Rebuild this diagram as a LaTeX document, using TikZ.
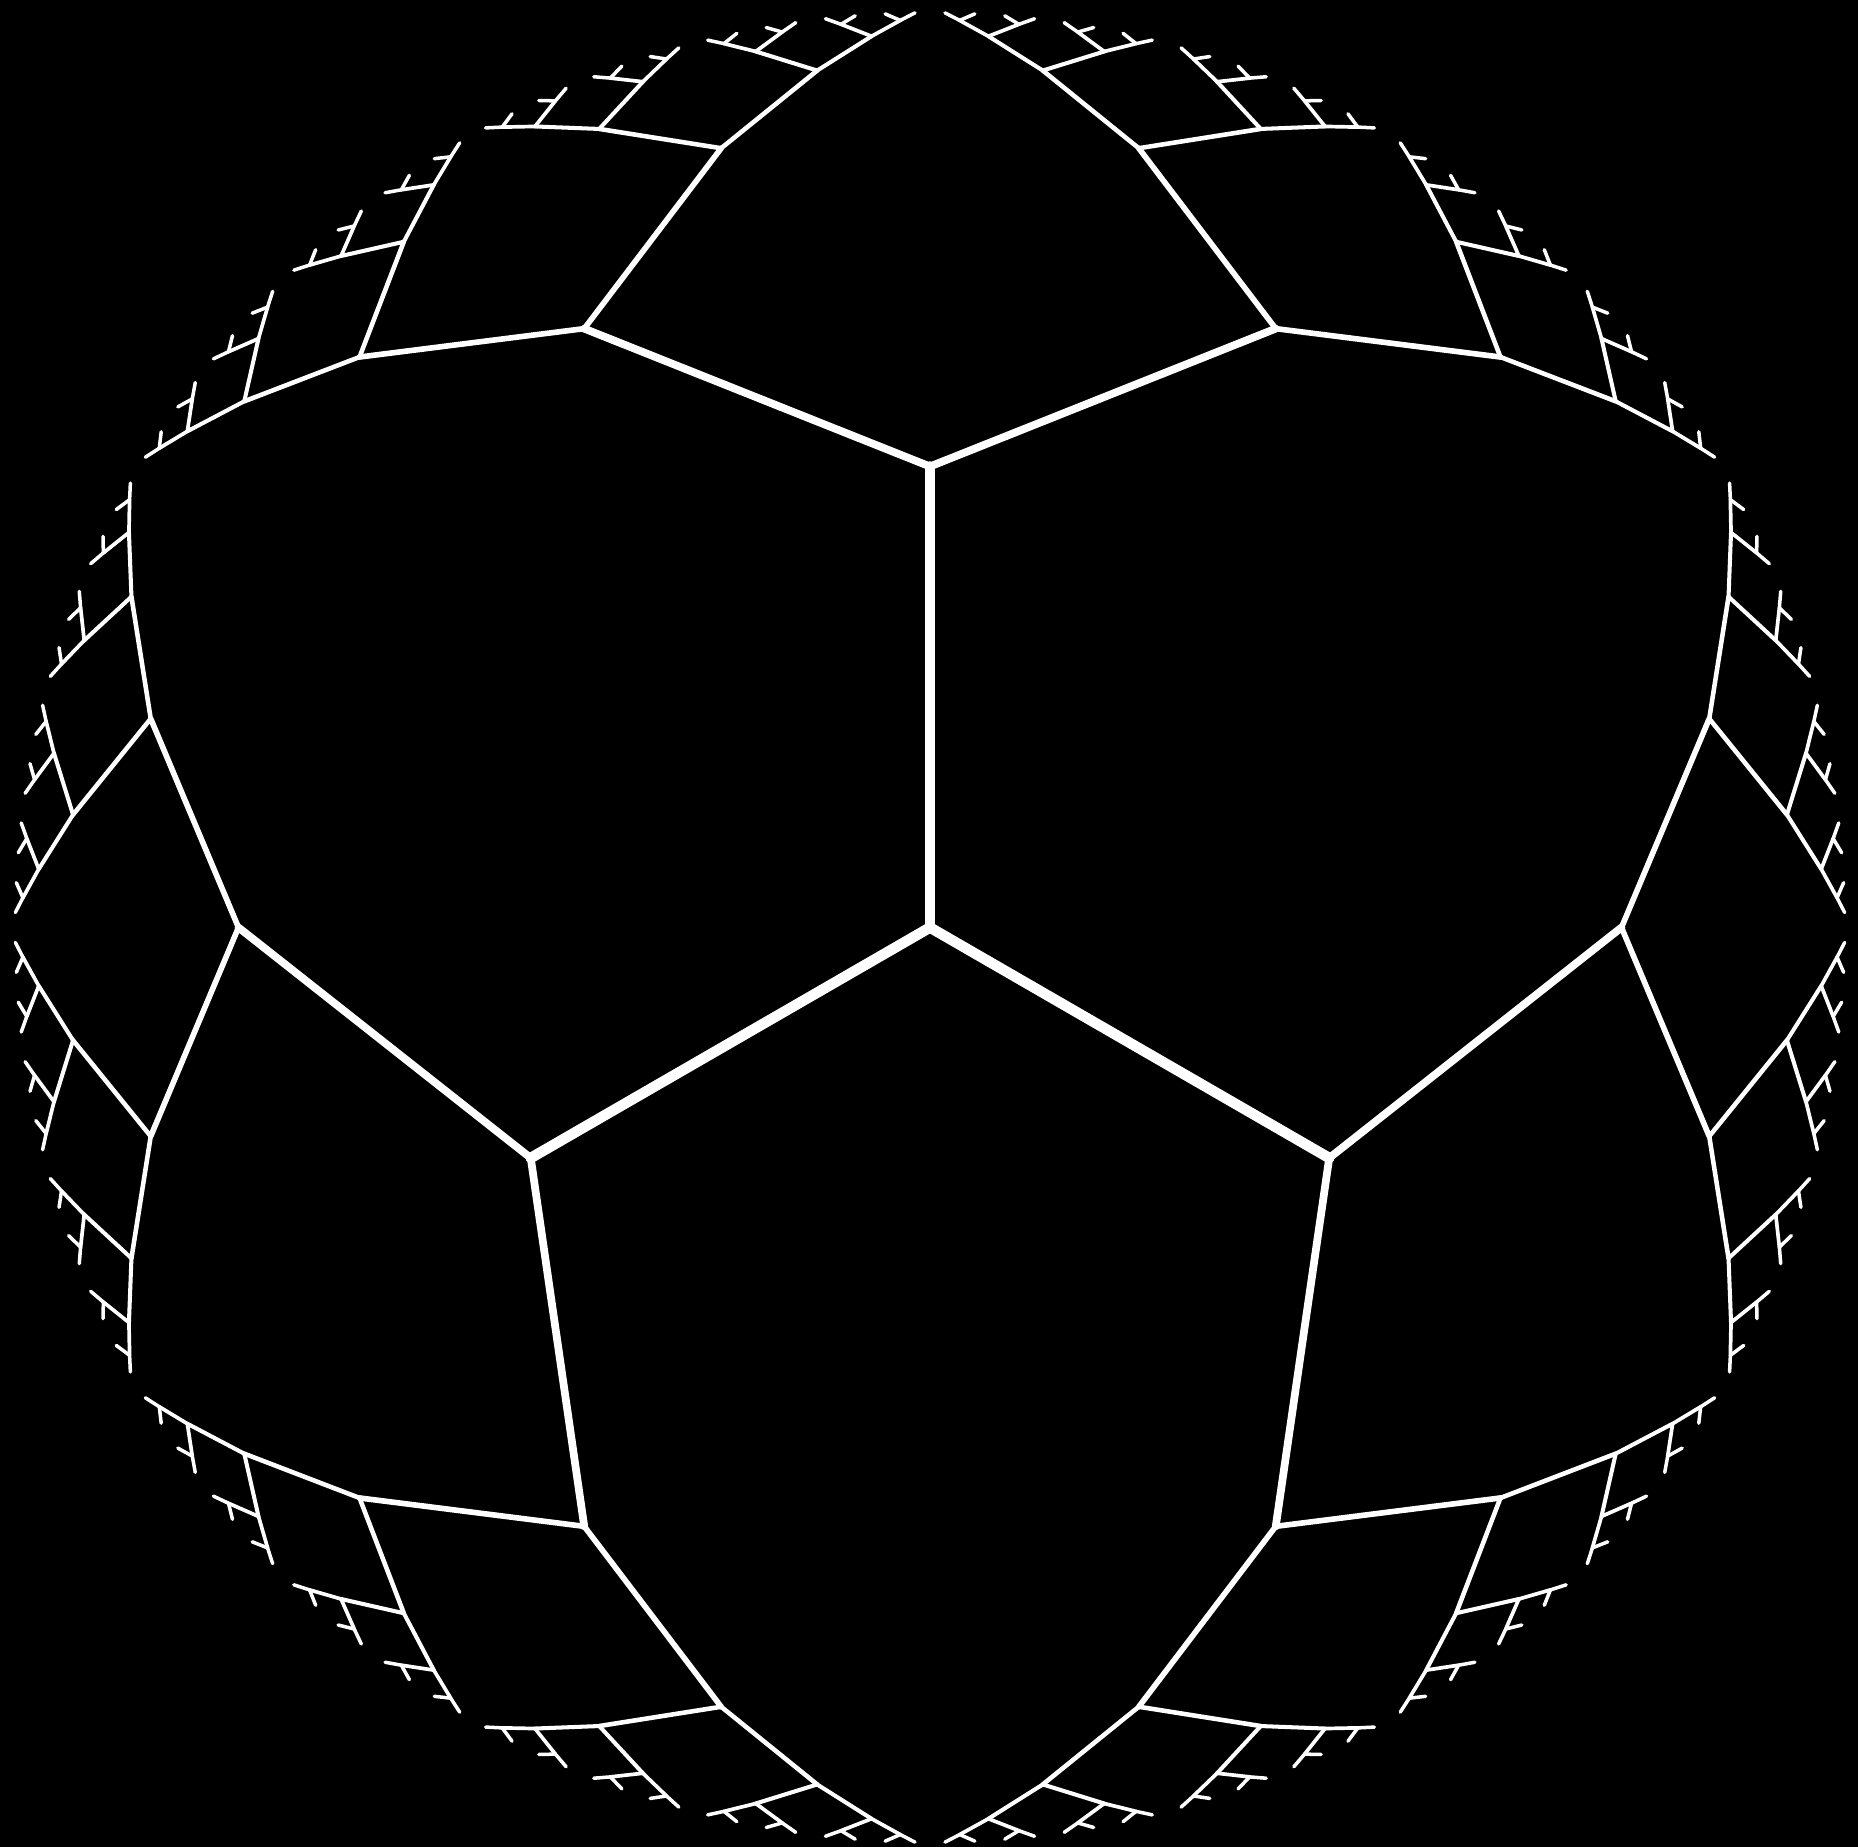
\documentclass[tikz,border=0pt]{standalone}
\usepackage{tikz}

\tikzset{
  rim/.style={white,line cap=round,line join=round},
  lvl1/.style={rim,line width=3.0pt},
  lvl2/.style={rim,line width=2.2pt},
  lvl3/.style={rim,line width=1.6pt},
  lvl4/.style={rim,line width=1.3pt},
  lvl5/.style={rim,line width=1.15pt},
  lvl6/.style={rim,line width=1.05pt},
  lvl7/.style={rim,line width=1.0pt}
}

\def\diskr{9.22}
\def\maxlvl{7}

% #1 level of the new edges, #2 angle of the parent vertex
\newcommand\twig[2]{%
  \ifnum#1>\maxlvl\relax\else
    \pgfmathsetmacro\rin{\diskr*(1-pow(2,-(#1-1)))}%
    \pgfmathsetmacro\rout{\diskr*(1-pow(2,-#1))}%
    \foreach \s in {-1,1}{%
      \pgfmathsetmacro\ang{#2+\s*60/pow(2,#1-1)}%
      \draw[lvl#1] (#2:\rin) -- (\ang:\rout);
      \edef\tmp{\noexpand\twig{\the\numexpr#1+1\relax}{\ang}}\tmp
    }%
  \fi}

\begin{document}
\begin{tikzpicture}
  \useasboundingbox (-9.30,-9.195) rectangle (9.28,9.275);
  \fill[black] (-9.30,-9.195) rectangle (9.28,9.275);
  \foreach \a in {90,210,330}{
    \draw[lvl1] (0,0) -- (\a:\diskr/2);
    \twig{2}{\a}
  }
\end{tikzpicture}
\end{document}
